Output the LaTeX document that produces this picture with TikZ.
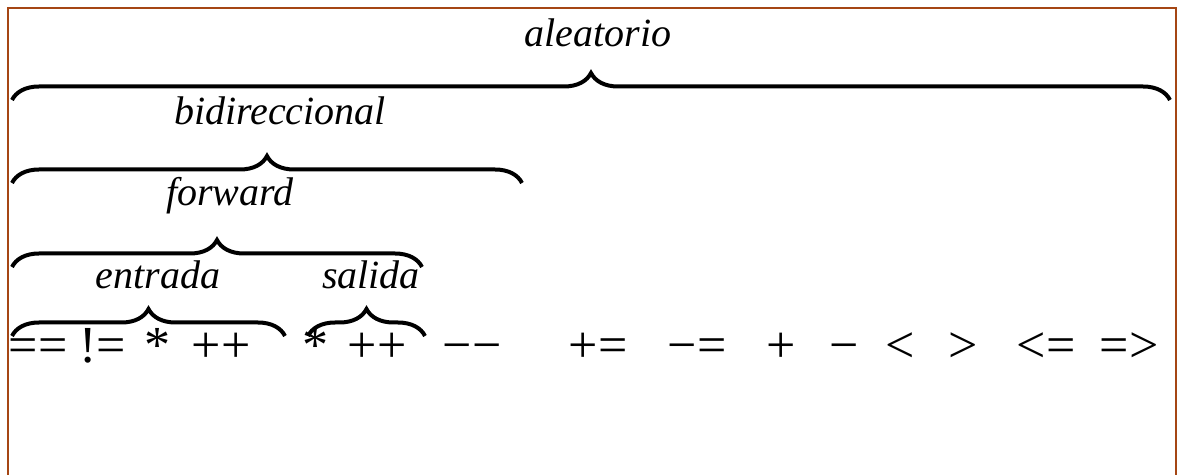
\documentclass[tikz,border=0pt]{standalone}
\usepackage{fontspec}
\setmainfont{Liberation Serif}
\usetikzlibrary{decorations.pathreplacing}
\definecolor{marco}{RGB}{165,70,20}

\begin{document}
\begin{tikzpicture}[x=0.5pt,y=-0.5pt,
  llave/.style={decorate,decoration={brace,amplitude=13.5pt},line width=2pt},
  etiqueta/.style={font=\fontsize{20}{24}\selectfont\itshape,anchor=base,inner sep=0pt},
  oper/.style={font=\fontsize{26}{30}\selectfont,anchor=base,inner sep=0pt}]

  \useasboundingbox (0,0) rectangle (1178,475);

  % marco
  \draw[marco,line width=1.25pt] (8,475) -- (8,8) -- (1176,8) -- (1176,475);

  \def\ybase{363}

  % operadores
  \node[oper] (igual)    at (38,\ybase)   {==};
  \node[oper] (distinto) at (103,\ybase)  {!=};
  \node[oper] (derefE)   at (157,\ybase)  {*};
  \node[oper] (incE)     at (221,\ybase)  {++};
  \node[oper] (derefS)   at (315,\ybase)  {*};
  \node[oper] (incS)     at (377,\ybase)  {++};
  \node[oper] (dec)      at (472,\ybase)  {−−};
  \node[oper] (masIg)    at (598,\ybase)  {+=};
  \node[oper] (menosIg)  at (697,\ybase)  {−=};
  \node[oper] (mas)      at (781,\ybase)  {+};
  \node[oper] (menos)    at (844,\ybase)  {−};
  \node[oper] (menor)    at (900,\ybase)  {<};
  \node[oper] (mayor)    at (963,\ybase)  {>};
  \node[oper] (menorIg)  at (1046,\ybase) {<=};
  \node[oper] (mayorIg)  at (1129,\ybase) {=>};

  % extremos de las llaves
  \coordinate (entIzq) at (12,336);
  \coordinate (entDer) at (285,336);
  \coordinate (salIzq) at (308,336);
  \coordinate (salDer) at (425,336);
  \coordinate (fwdIzq) at (12,267);
  \coordinate (fwdDer) at (422,267);
  \coordinate (bidIzq) at (12,183);
  \coordinate (bidDer) at (522,183);
  \coordinate (aleIzq) at (12,100);
  \coordinate (aleDer) at (1170,100);

  % llaves
  \draw[llave] (entIzq) -- (entDer);
  \draw[llave] (salIzq) -- (salDer);
  \draw[llave] (fwdIzq) -- (fwdDer);
  \draw[llave] (bidIzq) -- (bidDer);
  \draw[llave] (aleIzq) -- (aleDer);

  % etiquetas
  \node[etiqueta] (entrada)  at (158,289) {entrada};
  \node[etiqueta] (salida)   at (371,289) {salida};
  \node[etiqueta] (forward)  at (230,206) {forward};
  \node[etiqueta] (bidir)    at (280,125) {bidireccional};
  \node[etiqueta] (aleat)    at (598,47)  {aleatorio};
\end{tikzpicture}
\end{document}
